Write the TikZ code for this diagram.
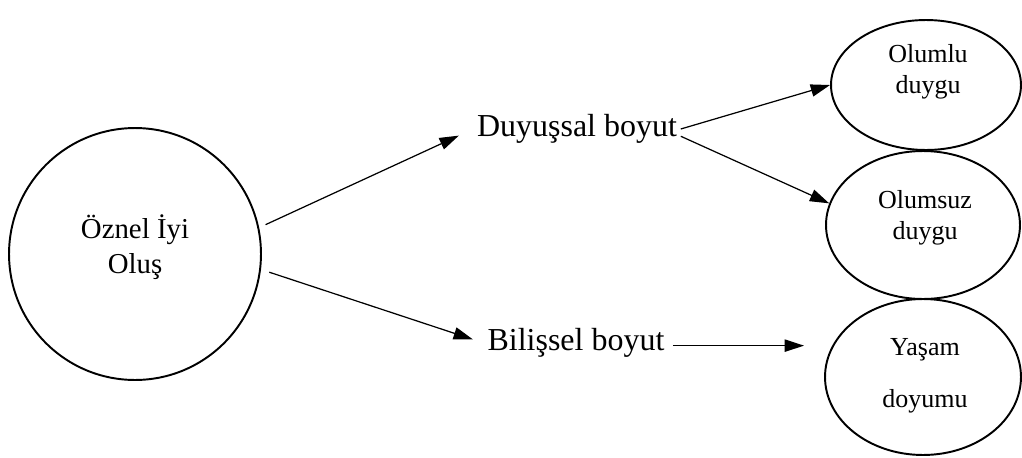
\documentclass[tikz,border=0pt]{standalone}
\usepackage{fontspec}
\setmainfont{Liberation Serif}
\usetikzlibrary{arrows.meta,shapes.geometric}
\begin{document}
\begin{tikzpicture}[x=0.02cm,y=-0.02cm,
        bigtext/.style={font=\fontsize{18.2}{22}\selectfont, inner sep=2pt},
        smalltext/.style={font=\fontsize{14.8}{17.6}\selectfont, align=center, inner sep=0pt},
        arr/.style={-{Triangle[length=11pt,width=7pt]}, line width=0.7pt}]
            \useasboundingbox (0,0) rectangle (1022,457);
            % Main construct
            \node[circle, draw, line width=1.1pt, minimum size=5.04cm, inner sep=0pt] (oiy) at (135,254) {};
            \node[font=\fontsize{16.4}{19.9}\selectfont, align=center] (oiytext) at (135,247) {Öznel İyi\\Oluş};
            % Dimensions
            \node[bigtext] (duy) at (577,129) {Duyuşsal boyut};
            \node[bigtext] (bil) at (576,343) {Bilişsel boyut};
            % Components
            \foreach \n/\cx/\cy/\w/\h in {olumlu/926/85/3.8/2.6, olumsuz/923/225/3.88/2.96, yasam/923/377/3.92/3.12} {
                    \node[ellipse, draw, line width=1.1pt, minimum width=\w cm, minimum height=\h cm, inner sep=0pt] (\n) at (\cx,\cy) {};
                }
            \node[smalltext] (olumlutext) at (928,72) {Olumlu\\duygu};
            \node[smalltext] (olumsuztext) at (925,218) {Olumsuz\\duygu};
            \node[smalltext, font=\fontsize{14.8}{29.6}\selectfont] (yasamtext) at (925,376) {Yaşam\\doyumu};
            % Arrows
            \draw[arr, shorten <=4pt, shorten >=9pt] (oiy.12) -- (duy.west);
            \draw[arr, shorten <=5pt, shorten >=6.5pt] (oiy.-7) -- (bil.west);
            \draw[arr] (duy.east) -- (olumlu.west);
            \draw[arr] (duy.-4) -- (olumsuz.167);
            \draw[arr, shorten <=2.6pt, shorten >=11.4pt] ([yshift=-1.5pt]bil.east) -- ([yshift=-1.5pt]bil.east -| yasam.west);
\end{tikzpicture}
\end{document}
